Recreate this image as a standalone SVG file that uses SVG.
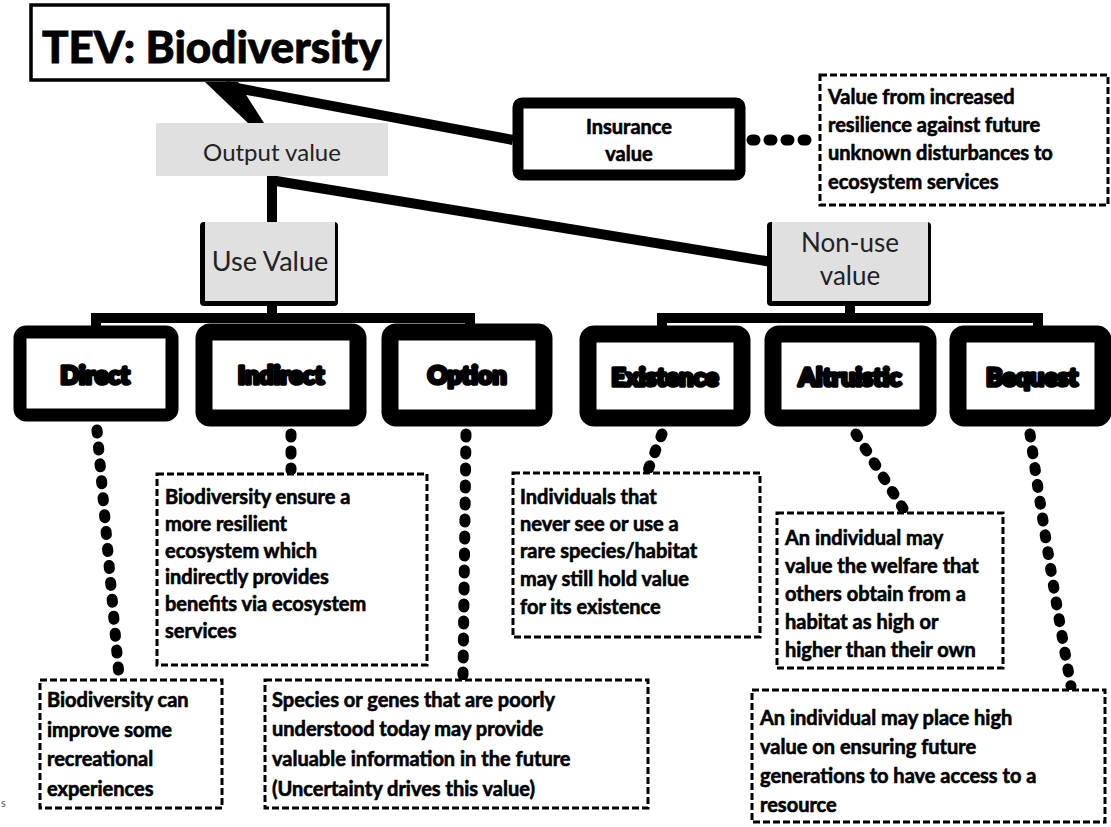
<svg xmlns="http://www.w3.org/2000/svg" width="1111" height="827" viewBox="0 0 1111 827">
<style>
.bg{fill:#fff}
.thick{stroke:#000;stroke-width:10;fill:none;stroke-linecap:butt}
.dot{stroke:#000;stroke-width:11;fill:none;stroke-linecap:round;stroke-dasharray:3 14}
.dash{fill:#fff;stroke:#000;stroke-width:3;stroke-dasharray:7 3}
.t{font-family:Lato,"Liberation Sans",sans-serif;font-weight:700;font-size:20px;fill:#000;stroke:#000;stroke-width:0.6}
.g{font-family:Lato,"Liberation Sans",sans-serif;font-weight:400;fill:#222}
.gray{fill:#e0e0e0}
.lab{font-family:Lato,"Liberation Sans",sans-serif;font-weight:900;font-size:25px;fill:#000;stroke:#000;stroke-width:3.5;stroke-linejoin:round}
</style>
<rect class="bg" x="0" y="0" width="1111" height="827"/>
<g id="connectors">
  <polygon points="205,82 238,82 264,123 250,125"/>
  <line class="thick" x1="226" y1="86" x2="513" y2="140"/>
  <line class="thick" x1="272" y1="175" x2="272" y2="222"/>
  <line class="thick" x1="270" y1="180" x2="772" y2="262"/>
  <line class="dot" x1="752" y1="140" x2="816" y2="140"/>
  <path class="thick" d="M96,330 V318 H470 V330" stroke-width="9"/>
  <line class="thick" x1="272" y1="300" x2="272" y2="318"/>
  <path class="thick" d="M662,330 V318 H1038 V330" stroke-width="9"/>
  <line class="thick" x1="850" y1="303" x2="850" y2="318"/>
  <line class="dot" x1="97" y1="430" x2="119" y2="676"/>
  <line class="dot" x1="291" y1="434" x2="291" y2="470"/>
  <line class="dot" x1="466" y1="434" x2="463" y2="676"/>
  <line class="dot" x1="662" y1="434" x2="648" y2="470"/>
  <line class="dot" x1="856" y1="434" x2="904" y2="510"/>
  <path class="dot" d="M1030,434 Q1048,560 1071,686"/>
</g>
<g id="title">
  <rect x="31" y="5" width="357" height="75" fill="#fff" stroke="#000" stroke-width="3.5"/>
  <text x="42" y="63" font-family="Lato,'Liberation Sans',sans-serif" font-weight="900" font-size="44" fill="#000" stroke="#000" stroke-width="0.8">TEV: Biodiversity</text>
</g>
<g id="output">
  <rect class="gray" x="156" y="123" width="232" height="53"/>
  <text class="g" x="272" y="161" font-size="24" text-anchor="middle">Output value</text>
</g>
<g id="insurance">
  <rect x="518" y="103" width="222" height="72" rx="4" fill="#fff" stroke="#000" stroke-width="11"/>
  <text class="t" x="629" y="134" font-size="18" text-anchor="middle">Insurance</text>
  <text class="t" x="629" y="161" font-size="18" text-anchor="middle">value</text>
</g>
<g id="insurance-note">
  <rect class="dash" x="820" y="75" width="288" height="130"/>
  <text class="t" x="828" y="104">Value from increased</text>
  <text class="t" x="828" y="132">resilience against future</text>
  <text class="t" x="828" y="160">unknown disturbances to</text>
  <text class="t" x="828" y="189">ecosystem services</text>
</g>
<g id="use">
  <rect x="200" y="222" width="138" height="84" rx="4" fill="#000"/>
  <rect class="gray" x="205" y="222" width="130" height="79"/>
  <text class="g" x="270" y="271" font-size="27" text-anchor="middle">Use Value</text>
</g>
<g id="nonuse">
  <rect x="767" y="222" width="164" height="84" rx="4" fill="#000"/>
  <rect class="gray" x="772" y="222" width="156" height="79"/>
  <text class="g" x="850" y="252" font-size="26" text-anchor="middle">Non-use</text>
  <text class="g" x="850" y="285" font-size="26" text-anchor="middle">value</text>
</g>
<g id="direct">
  <rect x="20" y="332" width="152" height="83" rx="6" fill="#fff" stroke="#000" stroke-width="13"/>
  <text class="lab" x="95" y="384" text-anchor="middle">Direct</text>
</g>
<g id="indirect">
  <rect x="204" y="332" width="154" height="86" rx="6" fill="#fff" stroke="#000" stroke-width="17"/>
  <text class="lab" x="281" y="384" text-anchor="middle">Indirect</text>
</g>
<g id="option">
  <rect x="390" y="332" width="154" height="86" rx="6" fill="#fff" stroke="#000" stroke-width="17"/>
  <text class="lab" x="467" y="384" text-anchor="middle">Option</text>
</g>
<g id="existence">
  <rect x="588" y="334" width="154" height="84" rx="6" fill="#fff" stroke="#000" stroke-width="17"/>
  <text class="lab" x="665" y="386" text-anchor="middle">Existence</text>
</g>
<g id="altruistic">
  <rect x="773" y="334" width="155" height="84" rx="6" fill="#fff" stroke="#000" stroke-width="17"/>
  <text class="lab" x="850" y="386" text-anchor="middle">Altruistic</text>
</g>
<g id="bequest">
  <rect x="958" y="334" width="145" height="84" rx="6" fill="#fff" stroke="#000" stroke-width="17"/>
  <text class="lab" x="1032" y="386" text-anchor="middle">Bequest</text>
</g>
<g id="indirect-note">
  <rect class="dash" x="157" y="474" width="270" height="191"/>
  <text class="t" x="165" y="504">Biodiversity ensure a</text>
  <text class="t" x="165" y="531">more resilient</text>
  <text class="t" x="165" y="558">ecosystem which</text>
  <text class="t" x="165" y="584">indirectly provides</text>
  <text class="t" x="165" y="611">benefits via ecosystem</text>
  <text class="t" x="165" y="638">services</text>
</g>
<g id="existence-note">
  <rect class="dash" x="513" y="473" width="247" height="164"/>
  <text class="t" x="520" y="504">Individuals that</text>
  <text class="t" x="520" y="531">never see or use a</text>
  <text class="t" x="520" y="558">rare species/habitat</text>
  <text class="t" x="520" y="586">may still hold value</text>
  <text class="t" x="520" y="614">for its existence</text>
</g>
<g id="altruistic-note">
  <rect class="dash" x="777" y="513" width="226" height="155"/>
  <text class="t" x="785" y="545">An individual may</text>
  <text class="t" x="785" y="573">value the welfare that</text>
  <text class="t" x="785" y="601">others obtain from a</text>
  <text class="t" x="785" y="629">habitat as high or</text>
  <text class="t" x="785" y="657">higher than their own</text>
</g>
<g id="direct-note">
  <rect class="dash" x="40" y="680" width="182" height="128"/>
  <text class="t" x="47" y="707">Biodiversity can</text>
  <text class="t" x="47" y="737">improve some</text>
  <text class="t" x="47" y="766">recreational</text>
  <text class="t" x="47" y="796">experiences</text>
</g>
<g id="option-note">
  <rect class="dash" x="265" y="680" width="383" height="128"/>
  <text class="t" x="272" y="707">Species or genes that are poorly</text>
  <text class="t" x="272" y="736">understood today may provide</text>
  <text class="t" x="272" y="766">valuable information in the future</text>
  <text class="t" x="272" y="796">(Uncertainty drives this value)</text>
</g>
<g id="bequest-note">
  <rect class="dash" x="752" y="690" width="353" height="132"/>
  <text class="t" x="760" y="725">An individual may place high</text>
  <text class="t" x="760" y="754">value on ensuring future</text>
  <text class="t" x="760" y="783">generations to have access to a</text>
  <text class="t" x="760" y="812">resource</text>
</g>
<text x="1" y="807" font-family="Lato,'Liberation Sans',sans-serif" font-size="11" fill="#555">s</text>
</svg>
